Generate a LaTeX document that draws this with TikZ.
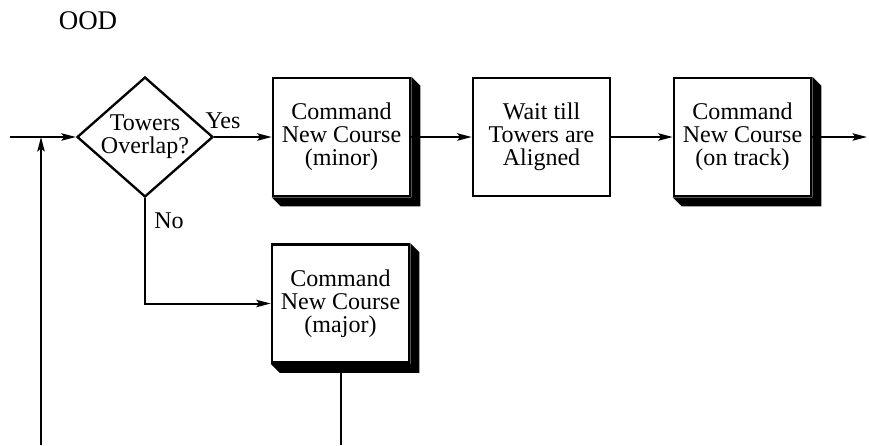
\documentclass[tikz,border=0pt]{standalone}
\usepackage{fontspec}
\setmainfont{Liberation Serif}
\usetikzlibrary{arrows.meta,shapes.geometric}

\tikzset{
	txt/.style = {font=\fontsize{20.5pt}{19.5pt}\selectfont, align=center},
	box/.style = {txt, draw, line width=2.2pt, fill=white, minimum width=4.11cm, minimum height=3.54cm, inner sep=0pt},
	ask/.style = {txt, draw, diamond, aspect=1.13, line width=2pt, minimum width=4.08cm, minimum height=3.6cm, inner sep=-1pt},
	flow/.style = {line width=1.7pt, -{Stealth[length=0.43cm, width=0.22cm, inset=0.08cm]}},
	wire/.style = {line width=1.7pt},
}
% black block under the lower right of a box
\newcommand{\extrude}[1]{\fill (#1.north east) -- ++(9,9) -- ([shift={(9,9)}]#1.south east) -- ([shift={(9,9)}]#1.south west) -- (#1.south west) -- (#1.south east) -- cycle;}

\begin{document}
\begin{tikzpicture}[x=0.03cm, y=-0.03cm]
	\useasboundingbox (0,0) rectangle (869,445);
	\node [txt, font=\fontsize{23pt}{24pt}\selectfont] (title) at (88,21) {OOD};
	% main row
	\node [ask] (overlap) at (145,137) {Towers\\Overlap?};
	\node [box] (minor) at (341.5,137) {Command\\New Course\\(minor)};
	\node [box] (wait) at (541.5,137) {Wait till\\Towers are\\Aligned};
	\node [box] (track) at (742.5,137) {Command\\New Course\\(on track)};
	% branch
	\node [box] (major) at (340.5,303.5) {Command\\New Course\\(major)};
	\extrude{minor}
	\extrude{track}
	\extrude{major}
	\node [txt] (yes) at (223,121) {Yes};
	\node [txt] (no) at (169,221) {No};
	\coordinate (start) at (10,137);
	\coordinate (join) at (41,137);
	\coordinate (loop) at (41,445);
	\coordinate (drop) at (major.south |- loop);
	\coordinate (out) at (867,137);
	\draw [flow] (start) -- (overlap.west);
	\draw [flow] (loop) -- (join);
	\draw [flow] (overlap.east) -- (minor.west);
	\draw [flow] (minor.east) -- (wait.west);
	\draw [flow] (wait.east) -- (track.west);
	\draw [flow] (track.east) -- (out);
	\draw [flow] (overlap.south) |- (major.west);
	\draw [wire] (major.south) -- (drop);
\end{tikzpicture}
\end{document}
